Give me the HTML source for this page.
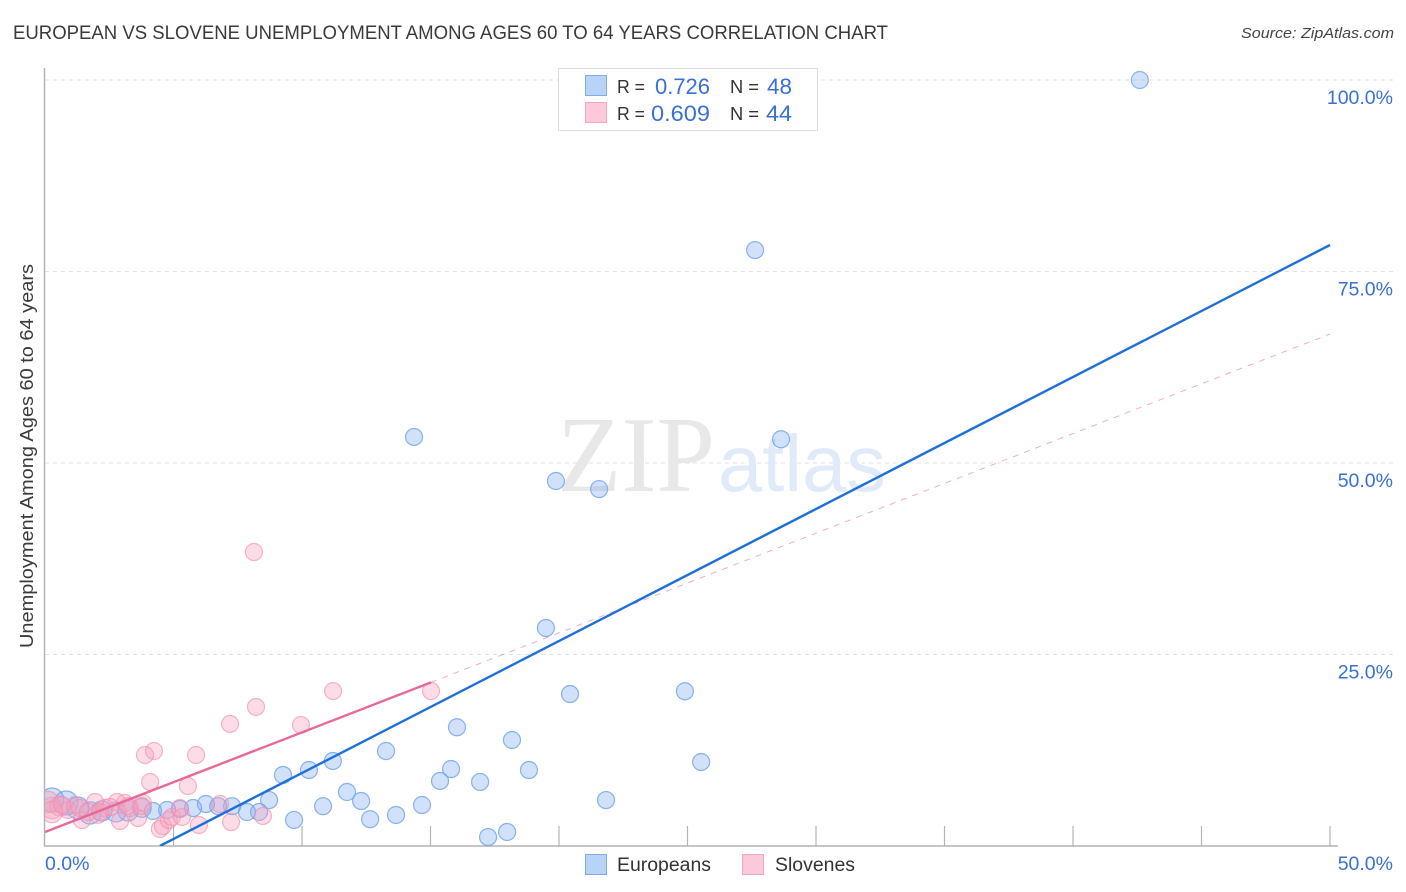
<!DOCTYPE html>
<html lang="en">
<head>
<meta charset="utf-8">
<title>European vs Slovene Unemployment Correlation Chart</title>
<style>
html,body{margin:0;padding:0;background:#fff;}
body{width:1406px;height:892px;overflow:hidden;}
svg{display:block;font-family:"Liberation Sans",sans-serif;}
</style>
</head>
<body>
<svg id="chart" width="1406" height="892" viewBox="0 0 1406 892" xmlns="http://www.w3.org/2000/svg">
  <defs><clipPath id="plot-clip"><rect x="45" y="60" width="1300" height="786"/></clipPath></defs>
  <text x="13" y="39" font-size="19" fill="#3a3a3a" textLength="875" lengthAdjust="spacingAndGlyphs">EUROPEAN VS SLOVENE UNEMPLOYMENT AMONG AGES 60 TO 64 YEARS CORRELATION CHART</text>
  <text x="1394" y="38" font-size="15" font-style="italic" fill="#444" text-anchor="end" textLength="153" lengthAdjust="spacingAndGlyphs">Source: ZipAtlas.com</text>
  <g id="grid"></g>
  <g>
    <text x="557" y="491" font-family="'Liberation Serif',serif" font-size="108" fill="#e8e8e8" textLength="158" lengthAdjust="spacingAndGlyphs">ZIP</text>
    <text x="718" y="491" font-size="80" fill="#e0eaf9" textLength="168" lengthAdjust="spacingAndGlyphs">atlas</text>
  </g>
  <g id="axes"></g>
  <g id="points" clip-path="url(#plot-clip)"></g>
  <g id="lines" clip-path="url(#plot-clip)"></g>
  <g id="tick-labels"></g>
  <text transform="translate(33,456) rotate(-90)" font-size="18" fill="#3a3a3a" text-anchor="middle" textLength="384" lengthAdjust="spacingAndGlyphs">Unemployment Among Ages 60 to 64 years</text>

  <g>
    <rect x="558.5" y="68.5" width="259" height="62" fill="#fff" stroke="#ddd"/>
    <rect x="585.5" y="75.5" width="21" height="20" fill="#b9d3f7" stroke="#7fabe8"/>
    <rect x="585.5" y="102.5" width="21" height="20" fill="#fbc9da" stroke="#f4a8c0"/>
    <text x="617" y="93" font-size="18" fill="#333" textLength="28" lengthAdjust="spacingAndGlyphs">R =</text>
    <text x="655" y="94" font-size="22" fill="#3a70d0" textLength="55" lengthAdjust="spacingAndGlyphs">0.726</text>
    <text x="730" y="93" font-size="18" fill="#333" textLength="29" lengthAdjust="spacingAndGlyphs">N =</text>
    <text x="767" y="94" font-size="22" fill="#3a70d0" textLength="25" lengthAdjust="spacingAndGlyphs">48</text>
    <text x="617" y="120" font-size="18" fill="#333" textLength="28" lengthAdjust="spacingAndGlyphs">R =</text>
    <text x="651" y="121" font-size="22" fill="#3a70d0" textLength="59" lengthAdjust="spacingAndGlyphs">0.609</text>
    <text x="730" y="120" font-size="18" fill="#333" textLength="29" lengthAdjust="spacingAndGlyphs">N =</text>
    <text x="766" y="121" font-size="22" fill="#3a70d0" textLength="26" lengthAdjust="spacingAndGlyphs">44</text>
  </g>

  <g>
    <rect x="585.5" y="854.5" width="21" height="20" fill="#b9d3f7" stroke="#7fabe8"/>
    <text x="617" y="871" font-size="19" fill="#333" textLength="94" lengthAdjust="spacingAndGlyphs">Europeans</text>
    <rect x="742.5" y="854.5" width="21" height="20" fill="#fbc9da" stroke="#f4a8c0"/>
    <text x="775" y="871" font-size="19" fill="#333" textLength="80" lengthAdjust="spacingAndGlyphs">Slovenes</text>
  </g>
</svg>
<script>
const europeanX = [42.6,27.63,14.36,28.64,19.88,21.56,19.49,20.43,24.9,16.03,18.17,25.53,13.27,11.2,9.26,10.27,15.8,15.37,16.93,18.83,11.75,12.3,10.82,12.65,13.66,14.67,21.83,17.24,17.98,9.69,8.72,8.33,7.86,7.28,6.74,6.26,5.76,5.25,4.75,4.2,3.77,3.23,2.76,2.21,1.75,1.28,0.82,0.27];
const europeanY = [100,77.8,53.4,53.1,47.65,46.6,28.46,19.84,20.2,15.5,13.84,10.97,12.4,11.1,9.27,9.92,10.05,8.49,8.36,9.92,7.05,5.87,5.2,3.5,4.05,5.35,6.0,1.17,1.83,3.4,6.0,4.44,4.44,5.2,5.2,5.48,4.96,4.83,4.7,4.57,4.96,4.57,4.44,4.57,4.31,4.96,5.61,6.0];
const europeanWeight = [1,1,1,1,1,1,1,1,1,1,1,1,1,1,1,1,1,1,1,1,1,1,1,1,1,1,1,1,1,1,1,1,1,1,1,1,1,1,1,1,1.2,1.4,1.4,1.4,1.7,1.7,2,2];
const sloveneX = [8.13,8.21,7.2,9.96,11.21,15.02,4.24,3.89,5.88,4.09,5.56,4.47,4.59,4.82,4.94,5.33,5.99,7.24,8.48,6.81,1.44,2.92,3.62,1.95,2.8,3.11,3.81,2.06,0.27,0.12,0.58,0.89,1.17,1.67,2.33,3.31,2.53,0.27,0.66,1.36,2.14,3.23,5.25,3.77];
const sloveneY = [38.38,18.15,15.93,15.8,20.23,20.23,12.4,11.88,11.88,8.36,7.83,2.22,2.61,3.39,3.79,3.79,2.74,3.13,3.92,5.48,3.39,3.26,3.66,5.74,5.74,5.61,5.61,4.18,4.96,5.74,5.22,4.7,5.35,4.44,4.96,4.96,5.09,4.44,5.35,4.96,4.44,5.22,4.96,5.22];
const sloveneWeight = [1,1,1,1,1,1,1,1,1,1,1,1,1,1,1,1,1,1,1,1,1,1,1,1,1,1,1,1.2,1.6,1.6,1.4,1,1,1,1,1,1,1.6,1,1,1,1,1,1];
const europeanTrend = [[4.47,0],[50,78.46]];
const sloveneTrendSolid = [[0,1.83],[15.02,21.36]];
const sloveneTrendDashed = [[15.02,21.36],[50,66.84]];
const yTicks = [25,50,75,100];
const yTickLabels = ["25.0%","50.0%","75.0%","100.0%"];
const xTicks = [5,10,15,20,25,30,35,40,45,50];
const xEndTicks = [0,50];
const xEndLabels = ["0.0%","50.0%"];

const NS = "http://www.w3.org/2000/svg";
const xScale = v => 45 + v * 25.7;
const yScale = v => 846 - v * 7.66;
const radius = w => 8.5 * Math.sqrt(w);
function mk(tag, attrs, parent) {
  const el = document.createElementNS(NS, tag);
  for (const k in attrs) el.setAttribute(k, attrs[k]);
  parent.appendChild(el);
  return el;
}
const grid = document.getElementById("grid");
const axes = document.getElementById("axes");
const pts = document.getElementById("points");
const lines = document.getElementById("lines");
const labels = document.getElementById("tick-labels");

yTicks.forEach((t, i) => {
  const g = mk("line", {x1:45, x2:1393, y1:yScale(t), y2:yScale(t), stroke:"#e2e2e2", "stroke-width":1, "stroke-dasharray":"4 4"}, grid);
  
  
  const l = mk("text", {x:1393, y:yScale(t)+24, "font-size":19.5, fill:"#3a70d0", "text-anchor":"end"}, labels);
  l.textContent = yTickLabels[i];
  
  
});

const yAxis = mk("line", {x1:44.5, x2:44.5, y1:68, y2:846, stroke:"#b4b4b4", "stroke-width":1.5}, axes);


const xAxis = mk("line", {x1:44, x2:1338, y1:846, y2:846, stroke:"#b4b4b4", "stroke-width":1.5}, axes);


xTicks.forEach(t => {
  const k = mk("line", {x1:xScale(t), x2:xScale(t), y1:826, y2:846, stroke:"#b4b4b4", "stroke-width":1.2}, axes);
  
  
});
xEndTicks.forEach((t, i) => {
  const l = mk("text", {x: i === 0 ? xScale(t) : 1393, y:870, "font-size":19.5, fill:"#3a70d0", "text-anchor": i === 0 ? "start" : "end"}, labels);
  l.textContent = xEndLabels[i];
  
  
});

europeanX.forEach((x, i) => {
  const c = mk("circle", {cx:xScale(x), cy:yScale(europeanY[i]), r:radius(europeanWeight[i]), fill:"#7fadf0", "fill-opacity":0.36, stroke:"#6fa0e8", "stroke-opacity":0.8, "stroke-width":1.2}, pts);
  
  
});
sloveneX.forEach((x, i) => {
  const c = mk("circle", {cx:xScale(x), cy:yScale(sloveneY[i]), r:radius(sloveneWeight[i]), fill:"#f7a0bc", "fill-opacity":0.36, stroke:"#f08fb0", "stroke-opacity":0.65, "stroke-width":1.2}, pts);
  
  
});

const dashed = mk("line", {x1:xScale(sloveneTrendDashed[0][0]), y1:yScale(sloveneTrendDashed[0][1]), x2:xScale(sloveneTrendDashed[1][0]), y2:yScale(sloveneTrendDashed[1][1]), stroke:"#e8689a", "stroke-opacity":0.55, "stroke-width":1, "stroke-dasharray":"6 6"}, lines);


const solid = mk("line", {x1:xScale(sloveneTrendSolid[0][0]), y1:yScale(sloveneTrendSolid[0][1]), x2:xScale(sloveneTrendSolid[1][0]), y2:yScale(sloveneTrendSolid[1][1]), stroke:"#e8689a", "stroke-width":2.4}, lines);


const blue = mk("line", {x1:xScale(europeanTrend[0][0]), y1:yScale(europeanTrend[0][1]), x2:xScale(europeanTrend[1][0]), y2:yScale(europeanTrend[1][1]), stroke:"#1f6fd8", "stroke-width":2.4}, lines);


</script>
</body>
</html>
